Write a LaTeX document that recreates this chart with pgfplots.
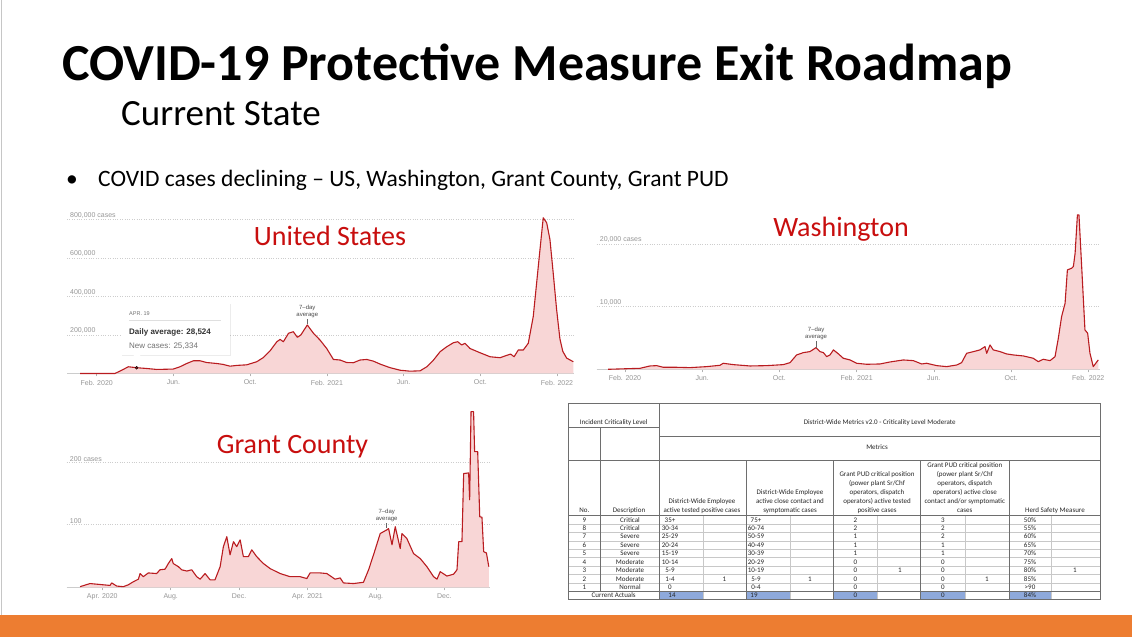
\documentclass[border=0pt]{standalone}
\usepackage{pgfplots}
\pgfplotsset{compat=1.18}
\usepackage{pgfplotstable}
\usepackage{fontspec}
\setmainfont{Carlito}
\newfontfamily\nyt{Liberation Sans}
\usetikzlibrary{shadows}
\definecolor{linered}{RGB}{185,28,32}
\definecolor{fillpink}{RGB}{248,214,214}
\definecolor{titlered}{RGB}{200,14,14}
\definecolor{orangebar}{RGB}{237,125,49}
\definecolor{ticklab}{RGB}{150,150,150}
\definecolor{gridc}{RGB}{205,205,205}
\definecolor{cellblue}{RGB}{142,169,219}
\definecolor{tabline}{RGB}{110,110,110}
\definecolor{tablight}{RGB}{200,200,200}

% United States: x = months since Jan 2020, y = thousands of daily cases
\pgfplotstableread{
m v
0.13 0
1.95 0
2.30 17
2.65 35
3.08 30
3.61 26
4.13 21
4.99 23
5.34 35
5.69 52
6.04 66
6.39 66
6.73 57
7.25 52
7.60 47
7.95 38
8.30 42
8.82 45
9.34 61
9.69 83
10.04 118
10.39 165
10.56 177
10.73 165
11.00 209
11.25 217
11.46 188
11.64 200
11.98 252
12.30 209
12.64 174
12.99 130
13.34 73
13.69 70
14.03 57
14.38 56
14.73 70
15.08 73
15.43 64
15.77 49
16.30 30
16.82 17
17.34 12
17.86 14
18.21 35
18.56 70
18.90 113
19.25 139
19.60 160
19.82 165
20.03 148
20.20 157
20.46 130
20.98 108
21.51 87
22.03 82
22.37 94
22.58 101
22.76 87
22.98 122
23.24 122
23.50 157
23.76 296
23.97 504
24.11 643
24.28 809
24.46 783
24.63 696
24.80 522
24.98 330
25.15 180
25.30 115
25.50 80
25.85 61
}\usdata

% Washington: daily cases
\pgfplotstableread{
m v
0.13 0
1.78 160
2.29 530
2.64 585
2.99 320
3.68 320
4.37 266
5.23 425
5.92 640
6.09 960
6.61 745
7.48 530
8.34 585
9.20 745
9.55 1060
9.89 2290
10.24 2660
10.58 2820
10.90 3460
11.10 2820
11.28 2660
11.45 2020
11.62 2290
11.80 3090
12.06 2450
12.31 1760
12.66 1490
13.00 960
13.52 800
14.21 850
14.73 1170
15.42 1490
15.94 1380
16.37 850
16.63 960
17.15 585
17.67 425
18.19 690
18.44 1060
18.70 2550
19.05 2820
19.39 3090
19.65 3620
19.74 2550
19.91 3880
20.08 3090
20.43 2820
20.77 2450
21.12 2290
21.64 2130
22.15 1760
22.41 1220
22.67 1600
23.02 1380
23.28 2020
23.45 4950
23.62 8400
23.80 10530
23.92 15850
24.14 16120
24.23 16390
24.32 18510
24.44 24630
24.52 24630
24.66 16390
24.83 6280
24.97 5750
25.09 2550
25.26 425
25.52 1490
}\wadata

% Grant County: daily cases
\pgfplotstableread{
m v
1.70 1
2.28 6
2.67 5
3.45 3
3.55 7
3.84 2
4.23 1
4.52 4
4.82 9
5.11 13
5.21 22
5.40 17
5.69 23
6.18 22
6.37 28
6.67 29
6.86 38
7.06 46
7.15 38
7.45 33
7.64 28
7.94 26
8.23 28
8.52 17
8.72 13
9.01 22
9.30 12
9.59 12
9.89 33
10.08 65
10.28 81
10.47 52
10.67 73
10.86 65
11.06 76
11.25 49
11.54 49
11.74 60
12.03 49
12.42 38
12.81 30
13.40 22
13.98 17
14.57 17
14.96 14
15.15 23
15.74 23
16.13 22
16.61 13
16.91 15
17.10 7
17.69 6
18.27 8
18.57 28
18.86 52
19.25 86
19.64 92
19.74 94
19.94 68
20.13 97
20.42 62
20.52 86
20.81 78
21.20 54
21.59 46
21.98 33
22.37 17
22.57 13
22.76 25
23.15 18
23.54 21
23.74 28
23.84 73
24.03 73
24.13 182
24.42 183
24.48 140
24.56 281
24.71 281
24.77 217
24.95 217
25.07 113
25.20 112
25.30 57
25.46 55
25.60 33
}\grdata

\pgfplotsset{
  nytstyle/.style={
    scale only axis,
    axis x line*=bottom,
    axis y line*=left,
    y axis line style={draw=none},
    x axis line style={draw=gray!40, line width=0.5pt},
    ymajorgrids,
    grid style={dotted, gridc, line width=0.7pt},
    ymin=0,
    scaled y ticks=false,
    tick align=outside,
    major tick length=3pt,
    xtick style={draw=gray!60, line width=0.5pt},
    ytick style={draw=none},
    xticklabel style={font=\nyt\fontsize{7}{8}\selectfont, text=ticklab},
    yticklabel style={font=\nyt\fontsize{7}{8}\selectfont, text=ticklab, anchor=south west, inner sep=1pt, xshift=5pt},
    clip=false,
  },
  arealine/.style={draw=linered, line width=1.1pt, line join=round},
  areafill/.style={fill=fillpink, draw=none},
}

\begin{document}
\begin{tikzpicture}[x=1pt,y=1pt]
\useasboundingbox (0,0) rectangle (1132,637);
\fill[white] (0,0) rectangle (1132,637);
\fill[orangebar] (0,0) rectangle (1132,22);
\draw[gray!45, line width=1.2pt] (1.5,22) -- (1.5,637);

% ---- titles
\node[anchor=base west, inner sep=0, font=\bfseries\fontsize{52}{58}\selectfont] at (62,556) {COVID-19 Protective Measure Exit Roadmap};
\node[anchor=base west, inner sep=0, font=\fontsize{37}{40}\selectfont] at (121,511) {Current State};
\node[anchor=base west, inner sep=0, font=\fontsize{23.5}{26}\selectfont] at (66,450) {\textbullet};
\node[anchor=base west, inner sep=0, font=\fontsize{23.5}{26}\selectfont] at (98,450) {COVID cases declining – US, Washington, Grant County, Grant PUD};

% ---- United States
\begin{axis}[nytstyle, at={(67pt,263.5pt)}, anchor=south west, width=507.3pt, height=157.85pt,
  xmin=-0.55, xmax=25.9, ymax=820,
  xtick={1,5,9,13,17,21,25}, xticklabels={Feb. 2020,Jun.,Oct.,Feb. 2021,Jun.,Oct.,Feb. 2022},
  ytick={200,400,600,800}, yticklabels={{200,000},{400,000},{600,000},{800,000 cases}}]
\addplot[areafill] table[x=m,y=v]{\usdata} \closedcycle;
\addplot[arealine] table[x=m,y=v]{\usdata};
\addplot[only marks, mark=*, mark size=1.5pt, mark options={fill=linered!70!black, draw=none}] coordinates {(3.08,30)};
\draw[black!60, line width=0.5pt] (axis cs:11.98,258) -- (axis cs:11.98,284);
\node[anchor=south, align=center, inner sep=1pt, font=\nyt\fontsize{6}{6.8}\selectfont, text=black!70] at (axis cs:11.98,284) {7–day\\average};
\end{axis}
% tooltip
\path[fill=white, drop shadow={opacity=0.15, shadow xshift=0.6pt, shadow yshift=-0.6pt}] (121.7,282) rectangle (230,333.7);
\fill[white] (133,282.5) -- (141,282.5) -- (137,278) -- cycle;
\node[anchor=base west, inner sep=0, font=\nyt\fontsize{5.5}{6}\selectfont, text=black!55] at (129,321.5) {APR. 19};
\draw[gray!25, line width=0.5pt] (129,317) -- (221,317);
\node[anchor=base west, inner sep=0, font=\nyt\bfseries\fontsize{8}{9}\selectfont, text=black!80] at (129,302) {Daily average: 28,524};
\node[anchor=base west, inner sep=0, font=\nyt\fontsize{8}{9}\selectfont, text=black!55] at (129,288.5) {New cases: 25,334};
\node[anchor=base, inner sep=0, font=\fontsize{28}{30}\selectfont, text=titlered] at (330,391) {United States};

% ---- Washington
\begin{axis}[nytstyle, at={(596.7pt,267.7pt)}, anchor=south west, width=503.3pt, height=155.5pt,
  xmin=-0.466, xmax=25.61, ymax=24800,
  xtick={1,5,9,13,17,21,25}, xticklabels={Feb. 2020,Jun.,Oct.,Feb. 2021,Jun.,Oct.,Feb. 2022},
  ytick={10000,20000}, yticklabels={{10,000},{20,000 cases}}]
\addplot[areafill] table[x=m,y=v]{\wadata} \closedcycle;
\addplot[arealine] table[x=m,y=v]{\wadata};
\draw[black!60, line width=0.5pt] (axis cs:10.9,3450) -- (axis cs:10.9,4550);
\node[anchor=south, align=center, inner sep=1pt, font=\nyt\fontsize{6}{6.8}\selectfont, text=black!70] at (axis cs:10.9,4550) {7–day\\average};
\end{axis}
\node[anchor=base, inner sep=0, font=\fontsize{28}{30}\selectfont, text=titlered] at (841,400) {Washington};

% ---- Grant County
\begin{axis}[nytstyle, at={(66.7pt,49.7pt)}, anchor=south west, width=423.3pt, height=178.1pt,
  xmin=0.918, xmax=25.67, ymax=285,
  xtick={3,7,11,15,19,23}, xticklabels={Apr. 2020,Aug.,Dec.,Apr. 2021,Aug.,Dec.},
  ytick={100,200}, yticklabels={100,200 cases}]
\addplot[areafill] table[x=m,y=v]{\grdata} \closedcycle;
\addplot[arealine] table[x=m,y=v]{\grdata};
\draw[black!60, line width=0.5pt] (axis cs:19.63,95) -- (axis cs:19.63,103);
\node[anchor=south, align=center, inner sep=1pt, font=\nyt\fontsize{6}{6.8}\selectfont, text=black!70] at (axis cs:19.63,103) {7–day\\average};
\end{axis}
\node[anchor=base, inner sep=0, font=\fontsize{28}{30}\selectfont, text=titlered] at (292.5,183) {Grant County};

% ---- Table
\fill[cellblue] (659.3,37.2) rectangle (703.3,45.63);
\fill[cellblue] (746.7,37.2) rectangle (790.7,45.63);
\fill[cellblue] (833.3,37.2) rectangle (877.7,45.63);
\fill[cellblue] (920.7,37.2) rectangle (965,45.63);
\fill[cellblue] (1009,37.2) rectangle (1051.7,45.63);
\begin{scope}[tablight, line width=0.5pt]
\foreach \yy in {113.07,104.64,96.21,87.78,79.35,70.92,62.49,54.06}
  \draw (568.3,\yy) -- (1100,\yy);
\foreach \xx in {703.3,790.7,877.7,965,1051.7}
  \draw (\xx,37.2) -- (\xx,121.5);
\end{scope}
\begin{scope}[tabline, line width=0.6pt]
\draw (568.3,45.63) -- (1100,45.63);
\draw (568.3,121.5) -- (1100,121.5);
\draw (568.3,176.3) -- (1100,176.3);
\draw (568.3,209.3) -- (659.3,209.3);
\draw (659.3,200.5) -- (1100,200.5);
\draw (600.7,45.63) -- (600.7,209.3);
\draw (659.3,37.2) -- (659.3,233.7);
\foreach \xx in {746.7,833.3,920.7,1009}
  \draw (\xx,37.2) -- (\xx,176.3);
\draw[line width=0.8pt] (568.3,37.2) rectangle (1100,233.7);
\end{scope}
\begin{scope}[font=\fontsize{7}{9}\selectfont]
\node[anchor=base, inner sep=0, text=black!85] at (613.7,212) {Incident Criticality Level};
\node[anchor=base, inner sep=0, text=black!85] at (879.7,212) {District-Wide Metrics v2.0 - Criticality Level Moderate};
\node[anchor=base, inner sep=0, text=black!85] at (877,187.5) {Metrics};
\node[anchor=south, inner sep=0, align=center, text=black!85] at (584.3,122) {No.\strut};
\node[anchor=south, inner sep=0, align=center, text=black!85] at (629,122) {Description\strut};
\node[anchor=south, inner sep=0, align=center, text=black!85] at (702,122) {District-Wide Employee\\active tested positive cases\strut};
\node[anchor=south, inner sep=0, align=center, text=black!85] at (790,122) {District-Wide Employee\\active close contact and\\symptomatic cases\strut};
\node[anchor=south, inner sep=0, align=center, text=black!85] at (877,122) {Grant PUD critical position\\(power plant Sr/Chf\\operators, dispatch\\operators) active tested\\positive cases\strut};
\node[anchor=south, inner sep=0, align=center, text=black!85] at (964.8,122) {Grant PUD critical position\\(power plant Sr/Chf\\operators, dispatch\\operators) active close\\contact and/or symptomatic\\cases\strut};
\node[anchor=south, inner sep=0, align=center, text=black!85] at (1055,122) {Herd Safety Measure\strut};
\foreach \k/\nn/\ds/\pa/\qa/\pb/\qb/\pc/\qc/\pd/\qd/\pe/\qe in {
0/9/Critical/35+/{}/75+/{}/2/{}/3/{}/50\%/{},
1/8/Critical/30-34/{}/60-74/{}/2/{}/2/{}/55\%/{},
2/7/Severe/25-29/{}/50-59/{}/1/{}/2/{}/60\%/{},
3/6/Severe/20-24/{}/40-49/{}/1/{}/1/{}/65\%/{},
4/5/Severe/15-19/{}/30-39/{}/1/{}/1/{}/70\%/{},
5/4/Moderate/10-14/{}/20-29/{}/0/{}/0/{}/75\%/{},
6/3/Moderate/5-9/{}/10-19/{}/0/1/0/{}/80\%/1,
7/2/Moderate/1-4/1/5-9/1/0/{}/0/1/85\%/{},
8/1/Normal/0/{}/0-4/{}/0/{}/0/{}/>90/{}}
{
  \node[anchor=base, inner sep=0, text=black!85] at (584.3,{114.9-8.43*\k}) {\nn};
  \node[anchor=base, inner sep=0, text=black!85] at (630,{114.9-8.43*\k}) {\ds};
  \node[anchor=base, inner sep=0, text=black!85] at (670,{114.9-8.43*\k}) {\pa};
  \node[anchor=base, inner sep=0, text=black!85] at (724.3,{114.9-8.43*\k}) {\qa};
  \node[anchor=base, inner sep=0, text=black!85] at (756,{114.9-8.43*\k}) {\pb};
  \node[anchor=base, inner sep=0, text=black!85] at (810,{114.9-8.43*\k}) {\qb};
  \node[anchor=base, inner sep=0, text=black!85] at (855.5,{114.9-8.43*\k}) {\pc};
  \node[anchor=base, inner sep=0, text=black!85] at (900,{114.9-8.43*\k}) {\qc};
  \node[anchor=base, inner sep=0, text=black!85] at (943,{114.9-8.43*\k}) {\pd};
  \node[anchor=base, inner sep=0, text=black!85] at (987,{114.9-8.43*\k}) {\qd};
  \node[anchor=base, inner sep=0, text=black!85] at (1030,{114.9-8.43*\k}) {\pe};
  \node[anchor=base, inner sep=0, text=black!85] at (1075,{114.9-8.43*\k}) {\qe};
}
\node[anchor=base, inner sep=0, text=black!85] at (613.7,39) {Current Actuals};
\node[anchor=base, inner sep=0, text=black!85] at (672,39) {14};
\node[anchor=base, inner sep=0, text=black!85] at (754,39) {19};
\node[anchor=base, inner sep=0, text=black!85] at (855.5,39) {0};
\node[anchor=base, inner sep=0, text=black!85] at (943,39) {0};
\node[anchor=base, inner sep=0, text=black!85] at (1030,39) {84\%};
\end{scope}
\end{tikzpicture}
\end{document}
